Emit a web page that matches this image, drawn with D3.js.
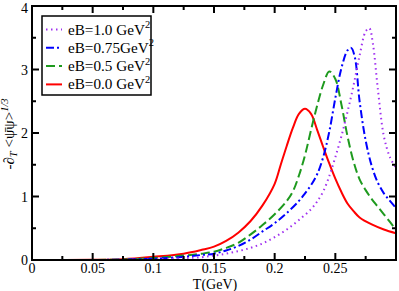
<!DOCTYPE html>
<html><head><meta charset="utf-8">
<script src="https://cdn.jsdelivr.net/npm/d3@7"></script>
<style>body{margin:0;background:#fff}svg{display:block}</style>
</head><body>
<svg id="c" width="399" height="291" font-family="'Liberation Serif','Times New Roman',Times,serif"></svg>
<script>
const xTicks = [0, 0.05, 0.1, 0.15, 0.2, 0.25];
const xTickLabels = ["0", "0.05", "0.1", "0.15", "0.2", "0.25"];
const yTicks = [0, 1, 2, 3, 4];
const yTickLabels = ["0", "1", "2", "3", "4"];

const T_red = [0, 0.05, 0.075, 0.1, 0.125, 0.14, 0.15, 0.16, 0.17, 0.18, 0.19, 0.2, 0.205, 0.21, 0.215, 0.22, 0.225, 0.23, 0.235, 0.24, 0.245, 0.25, 0.255, 0.26, 0.265, 0.27, 0.28, 0.29, 0.3];
const v_red = [0, 0.002, 0.012, 0.05, 0.1, 0.16, 0.21, 0.3, 0.43, 0.61, 0.86, 1.2, 1.5, 1.8, 2.08, 2.3, 2.38, 2.3, 2.05, 1.78, 1.52, 1.28, 1.07, 0.89, 0.77, 0.67, 0.56, 0.48, 0.42];

const T_green = [0, 0.05, 0.075, 0.1, 0.125, 0.14, 0.15, 0.16, 0.17, 0.18, 0.19, 0.2, 0.21, 0.215, 0.22, 0.225, 0.23, 0.235, 0.24, 0.245, 0.25, 0.255, 0.26, 0.265, 0.27, 0.275, 0.28, 0.285, 0.29, 0.295, 0.3];
const v_green = [0, 0.001, 0.008, 0.03, 0.07, 0.1, 0.13, 0.19, 0.27, 0.4, 0.55, 0.72, 0.93, 1.08, 1.33, 1.65, 2.05, 2.43, 2.76, 2.97, 2.85, 2.45, 1.95, 1.55, 1.27, 1.1, 0.96, 0.84, 0.72, 0.6, 0.47];

const T_blue = [0, 0.05, 0.075, 0.1, 0.125, 0.14, 0.15, 0.16, 0.17, 0.18, 0.19, 0.2, 0.21, 0.22, 0.225, 0.23, 0.235, 0.24, 0.245, 0.25, 0.255, 0.26, 0.263, 0.266, 0.27, 0.275, 0.28, 0.285, 0.29, 0.295, 0.3];
const v_blue = [0, 0.001, 0.005, 0.02, 0.05, 0.08, 0.1, 0.15, 0.22, 0.32, 0.45, 0.58, 0.74, 0.93, 1.05, 1.18, 1.35, 1.62, 2.02, 2.55, 3.02, 3.3, 3.34, 3.2, 2.5, 1.88, 1.48, 1.22, 1.05, 0.93, 0.82];

const T_purple = [0, 0.05, 0.075, 0.1, 0.125, 0.14, 0.15, 0.16, 0.17, 0.18, 0.19, 0.2, 0.21, 0.22, 0.23, 0.235, 0.24, 0.245, 0.25, 0.255, 0.26, 0.265, 0.27, 0.275, 0.278, 0.281, 0.285, 0.29, 0.295, 0.3];
const v_purple = [0, 0.0005, 0.003, 0.01, 0.03, 0.045, 0.07, 0.1, 0.14, 0.19, 0.26, 0.36, 0.48, 0.63, 0.8, 0.92, 1.08, 1.32, 1.62, 1.95, 2.33, 2.75, 3.22, 3.6, 3.65, 3.4, 2.7, 1.95, 1.62, 1.45];

const legendLabels = ["eB=1.0 GeV", "eB=0.75GeV", "eB=0.5 GeV", "eB=0.0 GeV"];

const series = [
  {T: T_red, v: v_red, color: "#ff0000", dash: null},
  {T: T_green, v: v_green, color: "#1e9a1e", dash: "9,4"},
  {T: T_blue, v: v_blue, color: "#0000ff", dash: "8,3,2,3"},
  {T: T_purple, v: v_purple, color: "#a030f0", dash: "1.5,3.5"}
];
const legendSeries = [series[3], series[2], series[1], series[0]];

const svg = d3.select("#c");
const L = 32, R = 396, Tp = 6, B = 260;
const x = d3.scaleLinear().domain([0, 0.3]).range([L, R]);
const y = d3.scaleLinear().domain([0, 4]).range([B, Tp]);

const plot = svg.append("g");
svg.append("clipPath").attr("id", "clp").append("rect")
  .attr("x", L).attr("y", Tp).attr("width", R - L).attr("height", B - Tp);

const line = d3.line().curve(d3.curveCatmullRom.alpha(0.5));
series.forEach(s => {
  const pts = s.T.map((t, i) => [x(t), y(s.v[i])]);
  plot.append("path").attr("d", line(pts)).attr("fill", "none")
    .attr("stroke", s.color).attr("stroke-width", 2)
    .attr("stroke-dasharray", s.dash).attr("clip-path", "url(#clp)");
});

// ticks
const minorX = d3.range(0, 0.3001, 0.025);
const minorY = d3.range(0, 4.001, 0.5);
const tg = svg.append("g").attr("stroke", "#000").attr("stroke-width", 2);
minorX.forEach((t, i) => {
  const len = (i % 2 === 0) ? 7 : 4;
  if (t <= 0.0001 || t >= 0.2999) return;
  tg.append("line").attr("x1", x(t)).attr("x2", x(t)).attr("y1", B).attr("y2", B - len);
  tg.append("line").attr("x1", x(t)).attr("x2", x(t)).attr("y1", Tp).attr("y2", Tp + len);
});
minorY.forEach((v, i) => {
  const len = (i % 2 === 0) ? 7 : 4;
  if (v <= 0.0001 || v >= 3.999) return;
  tg.append("line").attr("x1", L).attr("x2", L + len).attr("y1", y(v)).attr("y2", y(v));
  tg.append("line").attr("x1", R).attr("x2", R - len).attr("y1", y(v)).attr("y2", y(v));
});
svg.append("rect").attr("x", L).attr("y", Tp).attr("width", R - L).attr("height", B - Tp)
  .attr("fill", "none").attr("stroke", "#000").attr("stroke-width", 2);

// tick labels
xTicks.forEach((t, i) => {
  svg.append("text").attr("x", x(t)).attr("y", 273).attr("text-anchor", "middle")
    .attr("font-size", 14).text(xTickLabels[i]);
});
yTicks.forEach((v, i) => {
  svg.append("text").attr("x", 28).attr("y", Math.max(y(v) + 5, 12.5)).attr("text-anchor", "end")
    .attr("font-size", 14).text(yTickLabels[i]);
});

// axis titles
svg.append("text").attr("x", 215).attr("y", 289).attr("text-anchor", "middle")
  .attr("font-size", 14).text("T(GeV)");
const yl = svg.append("text").attr("transform", "translate(14,134) rotate(-90)")
  .attr("text-anchor", "middle").attr("font-size", 15);
yl.append("tspan").text("-∂");
yl.append("tspan").attr("font-style", "italic").attr("font-size", 10.5).attr("dy", 3).text("T");
yl.append("tspan").attr("dy", -3).text(" <ψ̄ψ>");
yl.append("tspan").attr("font-style", "italic").attr("font-size", 10.5).attr("dy", -6).text("1/3");

// legend
const lg = svg.append("g");
lg.append("rect").attr("x", 42).attr("y", 16).attr("width", 109).attr("height", 79)
  .attr("fill", "#fff").attr("stroke", "#000").attr("stroke-width", 1.5);
legendSeries.forEach((s, i) => {
  const cy = 29.5 + i * 18.3;
  lg.append("line").attr("x1", 46).attr("x2", 62).attr("y1", cy).attr("y2", cy)
    .attr("stroke", s.color).attr("stroke-width", 2).attr("stroke-dasharray", s.dash);
  const t = lg.append("text").attr("x", 68).attr("y", cy + 5).attr("font-size", 15.2);
  t.append("tspan").text(legendLabels[i]);
  t.append("tspan").attr("font-size", 10.5).attr("dy", -6.5).text("2");
});
</script>
</body></html>
